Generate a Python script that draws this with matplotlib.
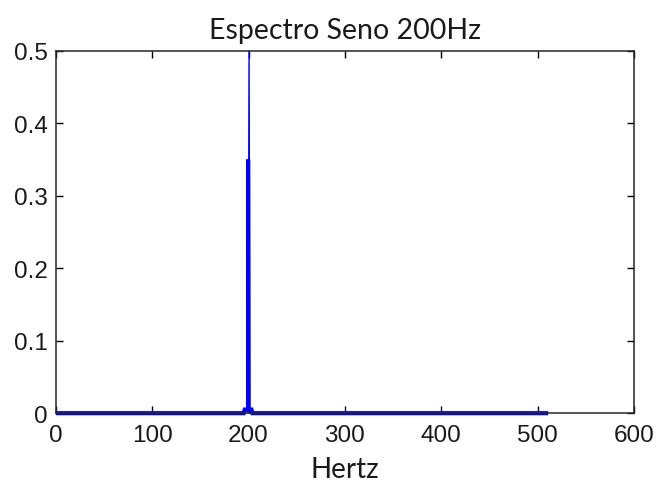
import matplotlib
matplotlib.use("Agg")
import matplotlib.pyplot as plt

# data
thick_freq = [0, 195, 196, 199.5, 199.5, 199.5, 203, 204, 511]
thick_vals = [0, 0, 0.005, 0.005, 0.35, 0.005, 0.005, 0, 0]
thin_freq = [199.5, 200.5, 201.5]
thin_vals = [0, 0.5, 0]
xticks = [0, 100, 200, 300, 400, 500, 600]
yticks = [0, 0.1, 0.2, 0.3, 0.4, 0.5]
ytick_labels = ["0", "0.1", "0.2", "0.3", "0.4", "0.5"]

fig = plt.figure(figsize=(6.57, 4.85), dpi=100)
ax = fig.add_axes([0.085, 0.146, 0.88, 0.747])
ax.plot(thin_freq, thin_vals, color="#0000ff", lw=1, clip_on=False)
ax.plot(thick_freq, thick_vals, color="#0000ff", lw=3, solid_capstyle="butt",
        solid_joinstyle="miter", clip_on=False)
ax.set_xlim(0, 600)
ax.set_ylim(0, 0.5)
ax.set_xticks(xticks)
ax.set_yticks(yticks)
ax.set_yticklabels(ytick_labels)
ax.tick_params(direction="in", top=True, right=True, length=5, width=1, labelsize=17.5)
ax.tick_params(axis="x", pad=8)
ax.tick_params(axis="y", pad=6)
for lab in ax.get_xticklabels() + ax.get_yticklabels():
    lab.set_family("Liberation Sans")
    lab.set_color("#1a1a1a")
for s in ax.spines.values():
    s.set_linewidth(1.1)
    s.set_color("#262626")
ax.set_title("Espectro Seno 200Hz", fontsize=20.5, family="Lato", pad=9, color="#1a1a1a")
ax.set_xlabel("Hertz", fontsize=20, family="Lato", labelpad=7, color="#1a1a1a")
fig.savefig("out.png", dpi=100, facecolor="white")
